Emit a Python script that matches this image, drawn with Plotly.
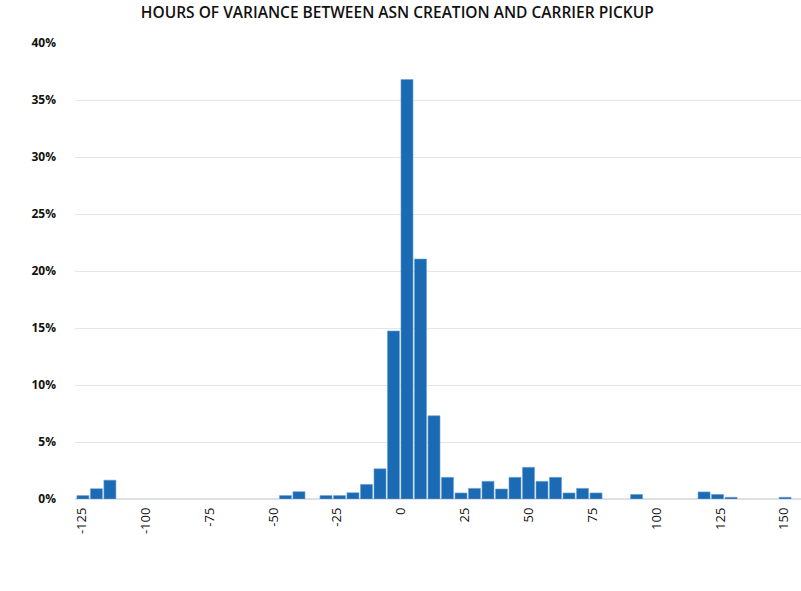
import plotly.graph_objects as go

title = "HOURS OF VARIANCE BETWEEN ASN CREATION AND CARRIER PICKUP"
bin_start = -127.25
bin_width = 5.288
share_pct = [0.3, 0.9, 1.65, 0, 0, 0, 0, 0, 0, 0, 0, 0, 0, 0, 0,
             0.3, 0.64, 0, 0.3, 0.3, 0.55, 1.28, 2.65, 14.74, 36.8, 21.05, 7.3,
             1.9, 0.53, 0.93, 1.55, 0.88, 1.9, 2.78, 1.55, 1.9, 0.53, 0.93, 0.53,
             0, 0, 0.4, 0, 0, 0, 0, 0.62, 0.4, 0.15, 0, 0, 0, 0.15]
x_ticks = [-125, -100, -75, -50, -25, 0, 25, 50, 75, 100, 125, 150]
x_tick_labels = ["-125", "-100", "-75", "-50", "-25", "0", "25", "50", "75", "100", "125", "150"]
y_ticks = [0, 5, 10, 15, 20, 25, 30, 35, 40]
y_tick_labels = ["0%", "5%", "10%", "15%", "20%", "25%", "30%", "35%", "40%"]

centers = [bin_start + (i + 0.5) * bin_width for i in range(len(share_pct))]
edge_widths = [0.6 if v > 0 else 0 for v in share_pct]

fig = go.Figure(go.Bar(
    x=centers, y=share_pct, width=bin_width * 0.89,
    marker=dict(color="#1a6ab4", line=dict(color="#6c9fd4", width=edge_widths)),
    hoverinfo="x+y",
))

fig.update_layout(
    width=801, height=591,
    margin=dict(l=75, r=0, t=43, b=92, autoexpand=False),
    paper_bgcolor="white", plot_bgcolor="white",
    showlegend=False,
    title=dict(text=title, x=0.496, xanchor="center", y=0.988, yanchor="top",
               automargin=False,
               font=dict(family="Open Sans", size=15.5, color="#111", weight=600)),
    xaxis=dict(range=[-127.7, 156.6], tickmode="array", tickvals=x_ticks,
               ticktext=x_tick_labels, tickangle=-90, automargin=False,
               showgrid=False, zeroline=False, showline=False, ticks="",
               ticklabelstandoff=5,
               tickfont=dict(family="Open Sans", size=13, color="#111")),
    yaxis=dict(range=[0, 40], tickmode="array", tickvals=y_ticks,
               ticktext=y_tick_labels, automargin=False,
               showgrid=True, gridcolor="#e6e6e6", gridwidth=1,
               zeroline=True, zerolinecolor="#e0e0e0", zerolinewidth=2,
               showline=False, ticks="", ticklabelstandoff=18,
               tickfont=dict(family="Open Sans", size=12, color="#111", weight=700)),
)

fig.write_html("out.html", config={"displayModeBar": False},
               post_script="document.body.style.margin='0';")
